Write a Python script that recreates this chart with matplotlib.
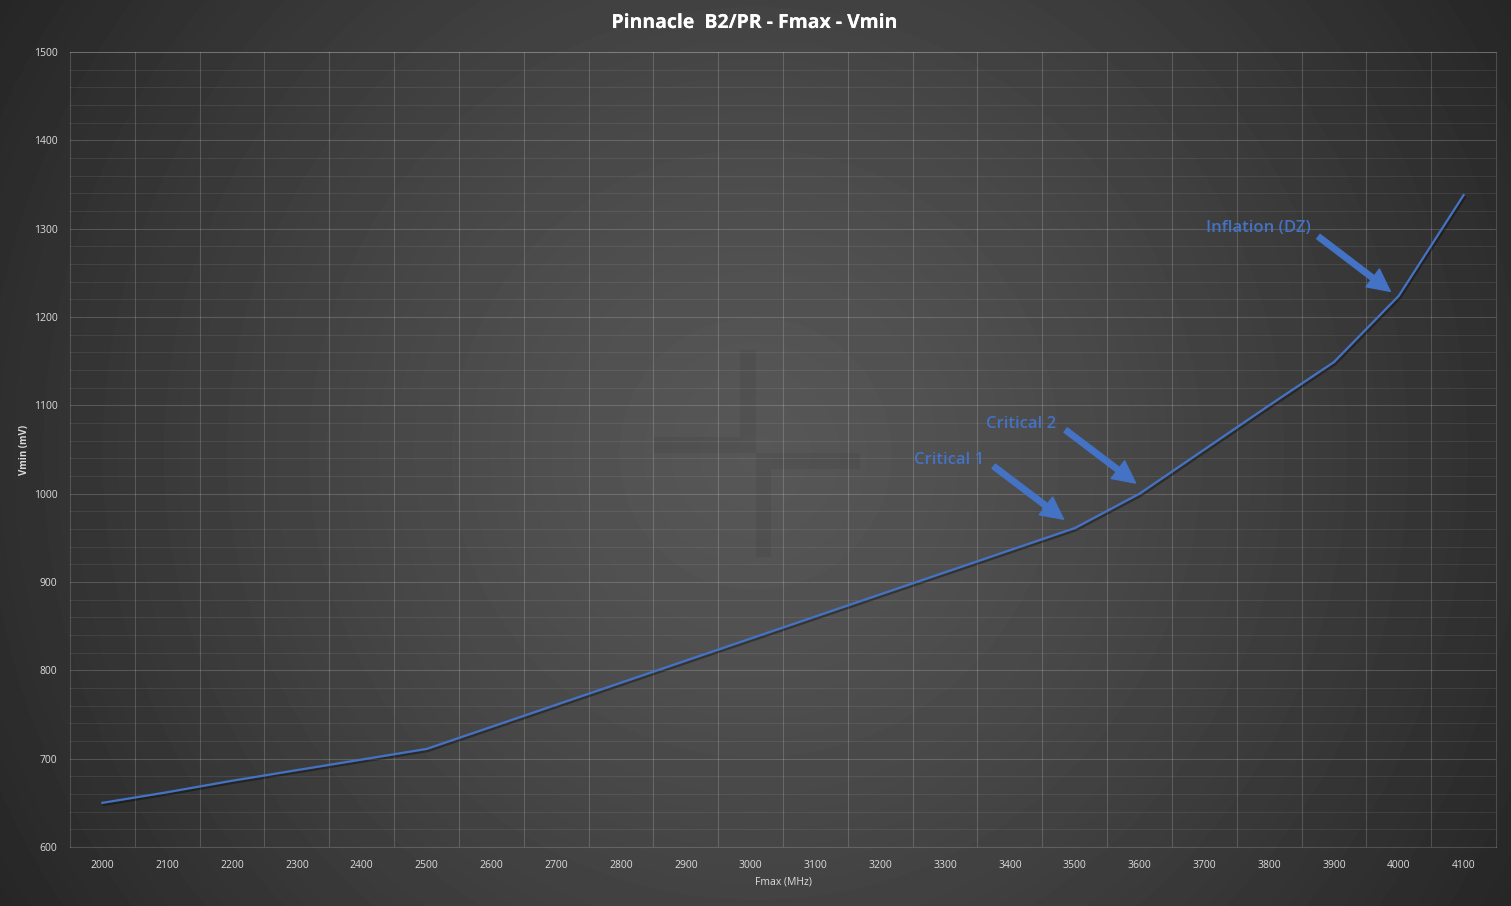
import matplotlib.pyplot as plt
import matplotlib.patheffects as pe
import numpy as np

# Fmax (MHz) -> Vmin (mV)
fmax = [2000, 2100, 2200, 2300, 2400, 2500, 2600, 2700, 2800, 2900, 3000,
        3100, 3200, 3300, 3400, 3500, 3600, 3700, 3800, 3900, 4000, 4100]
vmin = [650, 662, 675, 687, 699, 711, 736, 761, 786, 811, 836,
        861, 886, 911, 936, 961, 1000, 1050, 1100, 1149, 1224, 1338]
y_ticks = [600, 700, 800, 900, 1000, 1100, 1200, 1300, 1400, 1500]

title = 'Pinnacle  B2/PR - Fmax - Vmin'
blue = '#4472C4'
txt_col = '#dcdcdc'
plt.rcParams['font.family'] = ['Open Sans', 'DejaVu Sans']

W, H = 1511, 906
fig = plt.figure(figsize=(W / 100, H / 100), dpi=100)

# fondo con degradado radial
bg = fig.add_axes([0, 0, 1, 1], zorder=-1)
yy, xx = np.mgrid[0:H, 0:W]
d = np.hypot(xx - 755, yy - 453) / np.hypot(755, 453)
g = (87 - 49 * np.clip(d, 0, 1) ** 1.3) / 255.0
bg.imshow(g, cmap='gray', vmin=0, vmax=1, extent=[0, W, H, 0], aspect='auto')
# marca de agua (cruz)
bg.fill([740, 756, 756, 653, 653, 740], [350, 350, 453, 453, 437, 437],
        color='black', alpha=0.05, lw=0)
bg.fill([756, 860, 860, 771, 771, 756], [453, 453, 469, 469, 557, 557],
        color='black', alpha=0.05, lw=0)
bg.set_xlim(0, W)
bg.set_ylim(H, 0)
bg.axis('off')

ax = fig.add_axes([70 / W, 59 / H, 1426 / W, 795 / H])
ax.set_facecolor('none')

ax.plot(fmax, vmin, color=blue, lw=1.6, zorder=3,
        path_effects=[pe.SimpleLineShadow(offset=(1, -1.5), alpha=0.35), pe.Normal()])

ax.set_xlim(fmax[0] - 50, fmax[-1] + 50)
ax.set_ylim(y_ticks[0], y_ticks[-1])
ax.set_xticks(fmax)
ax.set_xticks([f + 50 for f in fmax[:-1]], minor=True)
ax.set_yticks(y_ticks)
ax.set_yticks(np.arange(y_ticks[0], y_ticks[-1], 20), minor=True)
ax.set_xticklabels([str(f) for f in fmax])
ax.tick_params(which='both', length=0, colors=txt_col, labelsize=7.5)
ax.tick_params(axis='x', pad=9)
ax.tick_params(axis='y', pad=9)
ax.grid(which='minor', axis='x', color='white', alpha=0.17, lw=0.8)
ax.grid(which='major', axis='x', visible=False)
ax.grid(which='major', axis='y', color='white', alpha=0.17, lw=0.8)
ax.grid(which='minor', axis='y', color='white', alpha=0.08, lw=0.8)
for s in ax.spines.values():
    s.set_color((1, 1, 1, 0.17))
    s.set_linewidth(0.8)

# anotaciones
notes = [('Critical 1', (3306, 1038), (3375, 1031), (3483, 971)),
         ('Critical 2', (3417, 1079), (3486, 1072), (3594, 1012)),
         ('Inflation (DZ)', (3784, 1301), (3876, 1291), (3987, 1229))]
for label, tpos, start, tip in notes:
    ax.text(tpos[0], tpos[1], label, color=blue, fontsize=12, fontweight='semibold',
            ha='center', va='center')
    ax.annotate('', xy=tip, xytext=start,
                arrowprops=dict(color=blue, width=4, headwidth=16, headlength=16, shrink=0))

fig.text(755 / W, 1 - 23 / H, title, color='white', fontsize=14, fontweight='bold',
         ha='center', va='center',
         path_effects=[pe.withSimplePatchShadow(offset=(1, -1), alpha=0.6), pe.Normal()])
fig.text(25 / W, 1 - 450 / H, 'Vmin (mV)', rotation=90, color=txt_col, fontsize=7,
         fontweight='bold', ha='center', va='center')
fig.text(783 / W, 1 - 882 / H, 'Fmax (MHz)', color=txt_col, fontsize=7.5,
         ha='center', va='center')

fig.savefig('out.png', dpi=100)
